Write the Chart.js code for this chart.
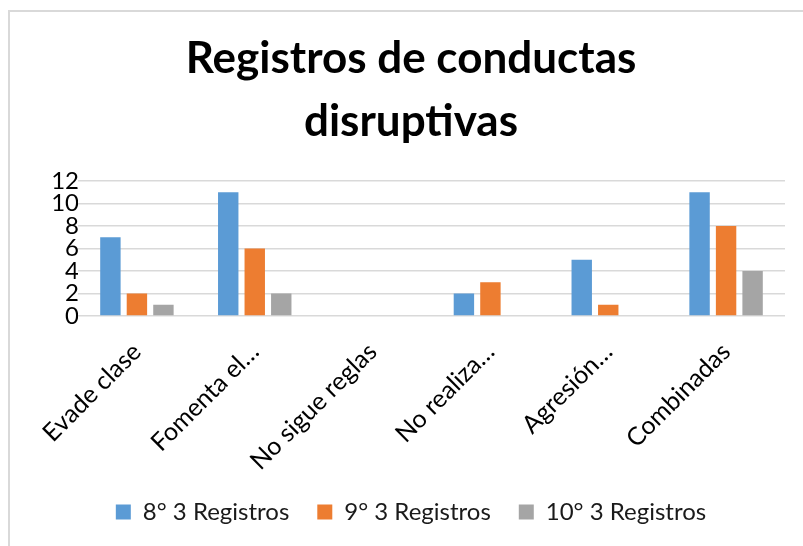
<!DOCTYPE html>
<html>
<head>
<meta charset="utf-8">
<script src="https://cdn.jsdelivr.net/npm/chart.js@4.4.0/dist/chart.umd.min.js"></script>
<style>
  html, body { margin: 0; padding: 0; background: #fff; }
  #frame {
    position: absolute; left: 8px; top: 10px;
    width: 795px; height: 536px;
    border-left: 2px solid #d9d9d9; border-top: 2px solid #d9d9d9;
  }
  #wrap { position: absolute; left: 0; top: 0; width: 793px; height: 534px; }
</style>
</head>
<body>
<div id="frame"><div id="wrap"><canvas id="chart"></canvas></div></div>
<script>
const categories = ['Evade clase', 'Fomenta el…', 'No sigue reglas', 'No realiza…', 'Agresión…', 'Combinadas'];
const seriesNames = ['8° 3 Registros', '9° 3 Registros', '10° 3 Registros'];
const grade8 = [7, 11, 0, 2, 5, 11];
const grade9 = [2, 6, 0, 3, 1, 8];
const grade10 = [1, 2, 0, 0, 0, 4];
const yTicks = [0, 2, 4, 6, 8, 10, 12];

const colors = ['#5B9BD5', '#ED7D31', '#A5A5A5'];
const font = 'Lato, "Open Sans", sans-serif';

Chart.defaults.font.family = font;
Chart.defaults.color = '#1a1a1a';

new Chart(document.getElementById('chart'), {
  type: 'bar',
  data: {
    labels: categories,
    datasets: [grade8, grade9, grade10].map((d, i) => ({
      label: seriesNames[i],
      data: d,
      backgroundColor: colors[i],
      borderWidth: 0,
      categoryPercentage: 0.675,
      barPercentage: 0.77
    }))
  },
  options: {
    responsive: true,
    maintainAspectRatio: false,
    animation: false,
    layout: { padding: { left: 27, right: 18, top: 16, bottom: 12 } },
    plugins: {
      title: {
        display: true,
        text: ['Registros de conductas', 'disruptivas'],
        color: '#000',
        font: { size: 44, weight: 'bold', lineHeight: 1.42 },
        padding: { top: 0, bottom: 28 }
      },
      legend: {
        position: 'bottom',
        labels: {
          boxWidth: 15,
          boxHeight: 15,
          padding: 28,
          color: '#1a1a1a',
          font: { size: 24 }
        }
      },
      tooltip: { enabled: false }
    },
    scales: {
      x: {
        grid: { display: false, drawTicks: false },
        border: { display: false },
        afterFit: (axis) => { axis.height = 156; },
        ticks: {
          minRotation: 45,
          maxRotation: 45,
          autoSkip: false,
          padding: 21,
          color: '#000',
          font: { size: 25 }
        }
      },
      y: {
        min: 0,
        max: 12,
        afterBuildTicks: (axis) => { axis.ticks = yTicks.map(v => ({ value: v })); },
        afterFit: (axis) => { axis.width = 41; },
        grid: { color: '#d9d9d9', lineWidth: 1.5, drawTicks: false },
        border: { display: false },
        ticks: {
          autoSkip: false,
          padding: -1,
          color: '#000',
          font: { size: 24 }
        }
      }
    }
  }
});
</script>
</body>
</html>
